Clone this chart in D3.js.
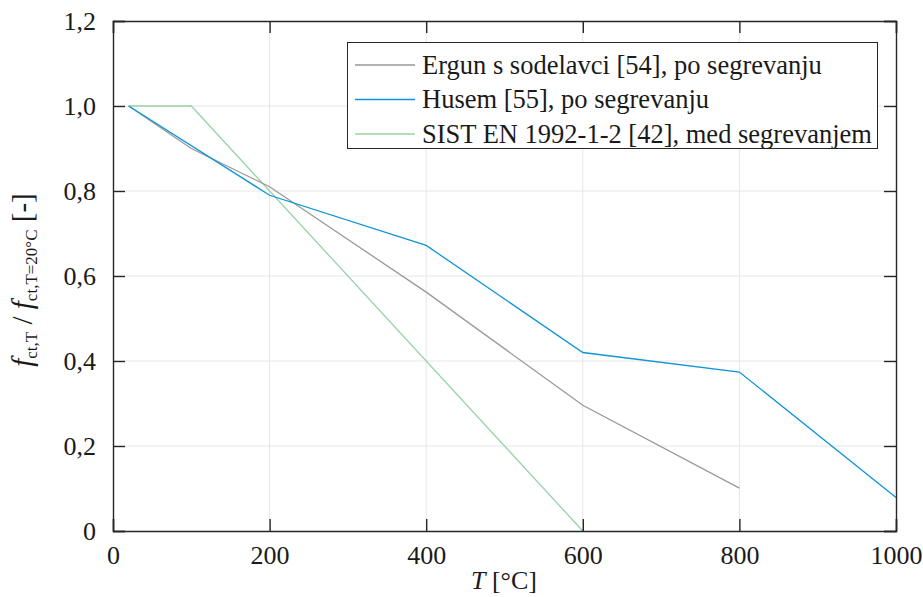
<!DOCTYPE html>
<html><head><meta charset="utf-8">
<script src="https://cdn.jsdelivr.net/npm/d3@7"></script>
<style>body{margin:0;background:#fff;}</style>
</head><body>
<svg id="c" width="923" height="597" font-family="Liberation Serif"></svg>
<script>
const xTicks = [0, 200, 400, 600, 800, 1000];
const yTicks = [0, 0.2, 0.4, 0.6, 0.8, 1.0, 1.2];
const seriesNames = ["Ergun s sodelavci [54], po segrevanju", "Husem [55], po segrevanju", "SIST EN 1992-1-2 [42], med segrevanjem"];
const seriesColors = ["#999999", "#0e95d6", "#98d3a6"];
const ergunT = [20, 100, 200, 400, 600, 800];
const ergunV = [1.0, 0.9, 0.81, 0.562, 0.296, 0.101];
const husemT = [20, 200, 400, 600, 800, 1000];
const husemV = [1.0, 0.79, 0.672, 0.42, 0.374, 0.079];
const enT = [20, 100, 600];
const enV = [1.0, 1.0, 0.0];

const FONT = "Liberation Serif";
const svg = d3.select("#c");
const m = {l:113, r:896, t:21, b:531};
const x = d3.scaleLinear().domain([0,1000]).range([m.l, m.r]);
const y = d3.scaleLinear().domain([0,1.2]).range([m.b, m.t]);
const fmt = d => d === 0 ? "0" : d3.format(".1f")(d).replace(".", ",");

// grid
svg.append("g").selectAll("line").data(xTicks.slice(1,-1)).join("line")
  .attr("x1", d=>x(d)).attr("x2", d=>x(d)).attr("y1", m.t).attr("y2", m.b)
  .attr("stroke", "#e6e6e6").attr("stroke-width", 1);
svg.append("g").selectAll("line").data(yTicks.slice(1,-1)).join("line")
  .attr("y1", d=>y(d)).attr("y2", d=>y(d)).attr("x1", m.l).attr("x2", m.r)
  .attr("stroke", "#e6e6e6").attr("stroke-width", 1);

// lines
const series = [
  {T: ergunT, V: ergunV},
  {T: husemT, V: husemV},
  {T: enT, V: enV}
];
const line = d3.line().x(d=>x(d[0])).y(d=>y(d[1]));
[2, 0, 1].forEach(i => {
  const s = series[i];
  svg.append("path").datum(s.T.map((t,j)=>[t, s.V[j]]))
    .attr("d", line).attr("fill", "none").attr("stroke", seriesColors[i]).attr("stroke-width", 1.3);
});

// axes
const TL = 12;
const ax = svg.append("g").attr("transform", `translate(0,${m.b})`)
  .call(d3.axisBottom(x).tickValues(xTicks).tickSize(-TL).tickPadding(15).tickFormat(d3.format("d")));
const ay = svg.append("g").attr("transform", `translate(${m.l},0)`)
  .call(d3.axisLeft(y).tickValues(yTicks).tickSize(-TL).tickPadding(17).tickFormat(fmt));
svg.append("g").attr("transform", `translate(0,${m.t})`)
  .call(d3.axisTop(x).tickValues(xTicks).tickSize(-TL).tickFormat(""));
svg.append("g").attr("transform", `translate(${m.r},0)`)
  .call(d3.axisRight(y).tickValues(yTicks).tickSize(-TL).tickFormat(""));
svg.selectAll("g").attr("font-family", FONT);
svg.selectAll(".domain").attr("stroke", "#262626").attr("stroke-width", 1.4);
svg.selectAll(".tick line").attr("stroke", "#262626").attr("stroke-width", 1.4);
svg.selectAll(".tick text").attr("fill", "#1a1a1a").attr("font-size", 26).attr("font-family", FONT);
ax.selectAll(".tick text").attr("dy", "0.71em");
ay.selectAll(".tick text").attr("dy", "0.32em");

// x label
const xl = svg.append("text").attr("x", 504).attr("y", 589).attr("text-anchor", "middle")
  .attr("font-size", 26).attr("font-family", FONT).attr("fill", "#1a1a1a");
xl.append("tspan").attr("font-style", "italic").text("T");
xl.append("tspan").text(" [°C]");

// y label
const yl = svg.append("text").attr("transform", "translate(32,280) rotate(-90)").attr("text-anchor", "middle")
  .attr("font-size", 29).attr("font-family", FONT).attr("fill", "#1a1a1a");
yl.append("tspan").attr("font-style", "italic").text("f");
yl.append("tspan").attr("dy", 5).attr("font-size", 17).text("ct,T");
yl.append("tspan").attr("dy", -5).text(" / ");
yl.append("tspan").attr("font-style", "italic").text("f");
yl.append("tspan").attr("dy", 5).attr("font-size", 17).text("ct,T=20°C");
yl.append("tspan").attr("dy", -5).text(" [-]");

// legend
const lg = svg.append("g");
lg.append("rect").attr("x", 347.5).attr("y", 42.5).attr("width", 530).attr("height", 106)
  .attr("fill", "#fff").attr("stroke", "#262626").attr("stroke-width", 1);
seriesNames.forEach((n, i) => {
  const yy = 65 + i * 34.5;
  lg.append("line").attr("x1", 355).attr("x2", 415).attr("y1", yy).attr("y2", yy)
    .attr("stroke", seriesColors[i]).attr("stroke-width", 1.3);
  lg.append("text").attr("x", 422).attr("y", yy).attr("dy", "0.33em")
    .attr("font-size", 26.5).attr("font-family", FONT).attr("fill", "#1a1a1a").text(n);
});
</script>
</body></html>
